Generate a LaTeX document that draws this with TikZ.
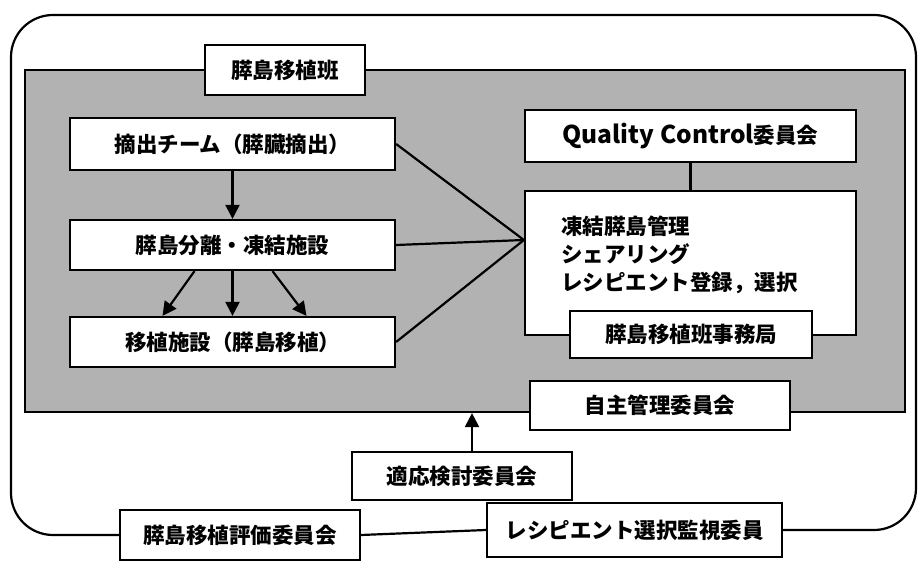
\documentclass[tikz,border=0pt]{standalone}
\usepackage{fontspec}
\newfontfamily\jp{Noto Sans CJK JP}
\usetikzlibrary{arrows.meta,calc}
\begin{document}
\begin{tikzpicture}[x=1pt,y=-1pt,
  box/.style={draw, line width=2.2pt, fill=white, inner sep=0pt, font=\jp\bfseries\fontsize{21.5}{25}\selectfont},
  conn/.style={line width=2.2pt},
  arr/.style={line width=2.2pt, -{Triangle[length=14pt,width=14pt]}},
  panelstyle/.style={draw, line width=2.2pt, fill=black!30, inner sep=0pt}]
\useasboundingbox (0,0) rectangle (923,585);
% panel
\node[panelstyle, minimum width=880pt, minimum height=342pt] (panel) at (465,241) {};
\node[box, minimum width=160pt, minimum height=50pt] (title) at (285,70) {膵島移植班};
% left column
\node[box, minimum width=325pt, minimum height=52pt] (teki) at (232.5,144) {摘出チーム（膵臓摘出）};
\node[box, minimum width=325pt, minimum height=50pt] (bunri) at (232.5,245) {膵島分離・凍結施設};
\node[box, minimum width=325pt, minimum height=50pt] (ishoku) at (232.5,342) {移植施設（膵島移植）};
% right column
\node[box, minimum width=331pt, minimum height=52pt] (qc) at (690.5,136) {{\fontsize{24.5}{25}\selectfont Quality Control}委員会};
\node[box, minimum width=331pt, minimum height=144pt] (big) at (690.5,263) {};
\node[anchor=west, inner sep=0pt, align=left, font=\jp\bfseries\fontsize{21.5}{28}\selectfont] (bigtext) at (561,255)
  {凍結膵島管理\\シェアリング\\レシピエント登録，選択};
\node[box, minimum width=242pt, minimum height=47pt] (jimu) at (691,334.5) {膵島移植班事務局};
\node[box, minimum width=260pt, minimum height=49pt] (jishu) at (660,405.5) {自主管理委員会};
% lower
\node[box, minimum width=220pt, minimum height=48pt] (tekio) at (462,476) {適応検討委員会};
\node[box, minimum width=240pt, minimum height=50pt] (hyoka) at (240,535) {膵島移植評価委員会};
\node[box, minimum width=295pt, minimum height=54pt] (recip) at (634.5,530) {レシピエント選択監視委員};
% outer rounded frame
\draw[conn, rounded corners=42pt] (hyoka.west) -- (11,535) -- (11,15) -- (916,15) -- (916,530) -- (recip.east);
\draw[conn] (hyoka.east) -- (recip.west);
% connectors
\coordinate (conv) at (big.west |- 0,240);
\draw[conn] (teki.east) -- (conv);
\draw[conn] (bunri.east) -- (conv);
\draw[conn] (ishoku.east) -- (conv);
\draw[conn] (qc.south) -- (big.north);
\draw[arr] (teki.south) -- (bunri.north);
\draw[arr] ($(bunri.south)+(-38,0)$) -- ($(ishoku.north)+(-70,0)$);
\draw[arr] (bunri.south) -- (ishoku.north);
\draw[arr] ($(bunri.south)+(40,0)$) -- ($(ishoku.north)+(74,0)$);
\draw[arr] ($(tekio.north)+(10,0)$) -- ($(tekio.north |- panel.south)+(10,0)$);
\end{tikzpicture}
\end{document}
